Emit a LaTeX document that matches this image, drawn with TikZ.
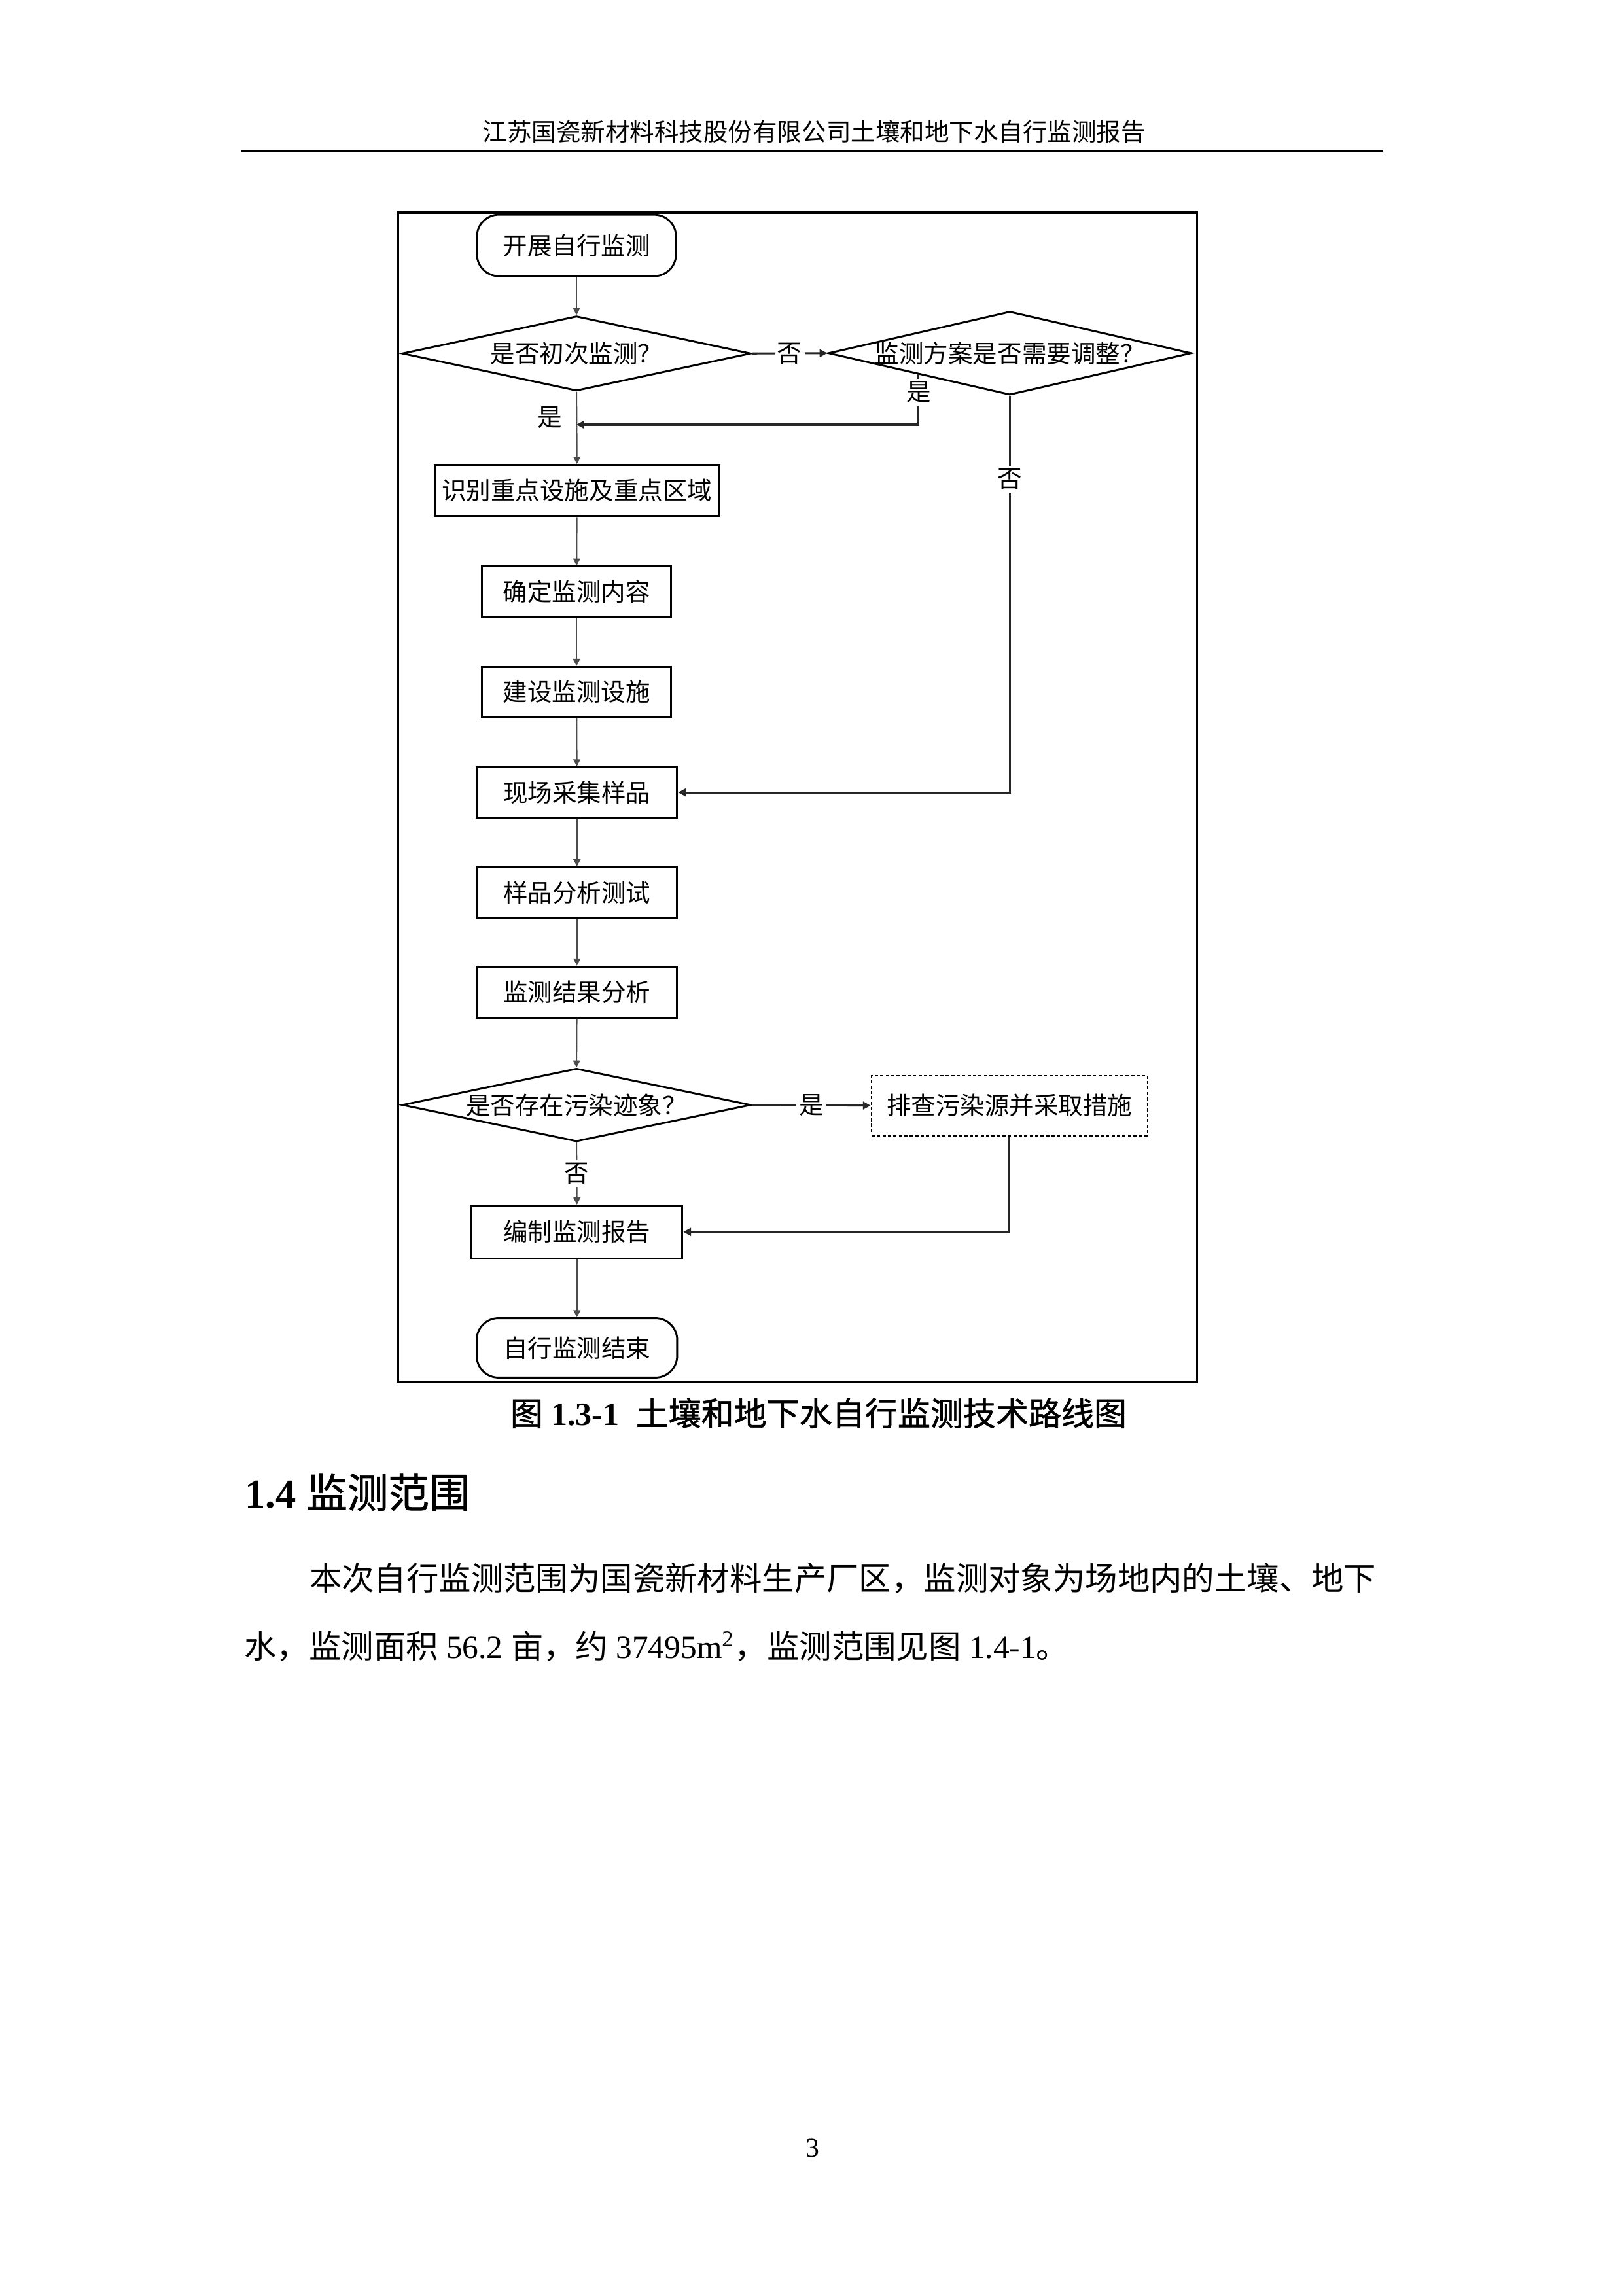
\documentclass[tikz,border=0pt]{standalone}
\usepackage{fontspec}
\setmainfont{Liberation Serif}
\newfontfamily\cjk{Noto Sans CJK SC}
\newfontfamily\cjkheavy{Noto Sans CJK SC}[FakeBold=1.2]
\usetikzlibrary{shapes.geometric}
\usetikzlibrary{arrows.meta}
\newcommand{\flowfont}{\cjk\fontsize{9}{10}\selectfont}

\begin{document}
\begin{tikzpicture}[x=0.5368pt,y=0.5368pt,yscale=-1,xscale=1,
  terminal/.style={draw, line width=0.7pt, rounded corners=8pt, inner sep=0pt, font=\flowfont},
  process/.style={draw, line width=0.7pt, inner sep=0pt, font=\flowfont},
  decision/.style={draw, diamond, aspect=1, line width=0.7pt, inner sep=0pt, font=\flowfont},
  flow/.style={draw=black!70, line width=0.5pt, -{Triangle[length=2.6pt,width=2.6pt]}},
  turn/.style={draw=black!85, line width=0.75pt, -{Triangle[length=2.8pt,width=2.8pt]}},
  tag/.style={fill=white, inner sep=1pt, font=\flowfont}]
%page
\fill[white] (0,0) rectangle (1109,1568);
\useasboundingbox (0,0) rectangle (1109,1568);

% Text Node
\node[inner sep=0pt, font=\cjk\fontsize{9}{11}\selectfont] (header) at (556,90) {江苏国瓷新材料科技股份有限公司土壤和地下水自行监测报告};
%Straight Lines
\draw[line width=0.65pt] (164.6,103.4) -- (944.3,103.4);

%Shape: Rectangle
\draw[line width=0.8pt] (271.8,145.3) rectangle (817.4,944);

%Flowchart: Terminal
\node[terminal, minimum width=73pt, minimum height=22.5pt] (start) at (393.7,167.6) {开展自行监测};
%Flowchart: Decision
\node[decision, minimum width=127.8pt, minimum height=27.4pt] (first) at (393.7,241.4) {\makebox[0pt]{是否初次监测？}};
\node[decision, minimum width=133.1pt, minimum height=30.6pt] (adjust) at (689.6,241.2) {\makebox[0pt]{监测方案是否需要调整？}};
%Flowchart: Process
\node[process, minimum width=104.4pt, minimum height=18.8pt] (identify) at (394,335) {识别重点设施及重点区域};
\node[process, minimum width=69.2pt, minimum height=18.3pt] (content) at (393.7,404) {确定监测内容};
\node[process, minimum width=69.2pt, minimum height=18.3pt] (build) at (393.7,472.5) {建设监测设施};
\node[process, minimum width=73.5pt, minimum height=18.5pt] (sample) at (394,541.2) {现场采集样品};
\node[process, minimum width=73.5pt, minimum height=18.5pt] (analysis) at (394,609.5) {样品分析测试};
\node[process, minimum width=73.5pt, minimum height=18.7pt] (result) at (394,677.5) {监测结果分析};
%Flowchart: Decision
\node[decision, minimum width=127.8pt, minimum height=26.8pt] (trace) at (393.7,754.6) {\makebox[0pt]{是否存在污染迹象？}};
%Flowchart: Process
\node[process, dash pattern=on 1.2pt off 0.8pt, line width=0.6pt, minimum width=101.2pt, minimum height=22pt] (check) at (689.4,755) {排查污染源并采取措施};
\node[process, minimum width=77.3pt, minimum height=19.3pt] (report) at (394,841.3) {编制监测报告};
%Flowchart: Terminal
\node[terminal, minimum width=73.5pt, minimum height=21.8pt] (stop) at (394,920.5) {自行监测结束};

\coordinate (merge) at (393.7,290);

%Straight Lines
\draw[flow] (start) -- (first);
\draw[turn] (first.east) -- node[tag] (no1) {否} (adjust.west);
\draw[flow] (first.south) -- node[pos=0.36, left=4pt, inner sep=1pt, font=\flowfont] (yes1) {是} (identify.north);
\draw[turn] (adjust.south west) -- node[tag, pos=0.35] (yes2) {是} (adjust.south west |- merge) -- (merge);
\draw[turn] (adjust.south) -- node[tag, pos=0.21] (no2) {否} (adjust.south |- sample.east) -- (sample.east);
\draw[flow] (identify) -- (content);
\draw[flow] (content) -- (build);
\draw[flow] (build) -- (sample);
\draw[flow] (sample) -- (analysis);
\draw[flow] (analysis) -- (result);
\draw[flow] (result) -- (trace.north);
\draw[turn] (trace.east) -- node[tag] (yes3) {是} (check.west);
\draw[flow] (trace.south) -- node[tag] (no3) {否} (report.north);
\draw[turn] (check.south) |- (report.east);
\draw[flow] (report) -- (stop);

% Text Node
\node[inner sep=0pt, font=\fontsize{12}{14}\selectfont\bfseries] (caption) at (559,965) {{\cjkheavy\mdseries 图} 1.3-1\ \ {\cjkheavy\mdseries 土壤和地下水自行监测技术路线图}};
% Text Node
\node[anchor=west, inner sep=0pt, font=\fontsize{15}{18}\selectfont\bfseries] (heading) at (167,1019) {1.4 {\cjkheavy\mdseries 监测范围}};
% Text Node
\node[anchor=west, inner sep=0pt, font=\fontsize{11.85}{14}\selectfont] (line1) at (211,1078) {{\cjk 本次自行监测范围为国瓷新材料生产厂区，监测对象为场地内的土壤、地下}};
% Text Node
\node[anchor=west, inner sep=0pt, font=\fontsize{11.85}{14}\selectfont] (line2) at (166.5,1124.5) {{\cjk 水，监测面积} 56.2 {\cjk 亩，约} 37495m\textsuperscript{2}{\cjk ，监测范围见图} 1.4-1{\cjk 。}};
% Text Node
\node[inner sep=0pt, font=\fontsize{10}{12}\selectfont] (pagenum) at (555,1467) {3};

\end{tikzpicture}
\end{document}
